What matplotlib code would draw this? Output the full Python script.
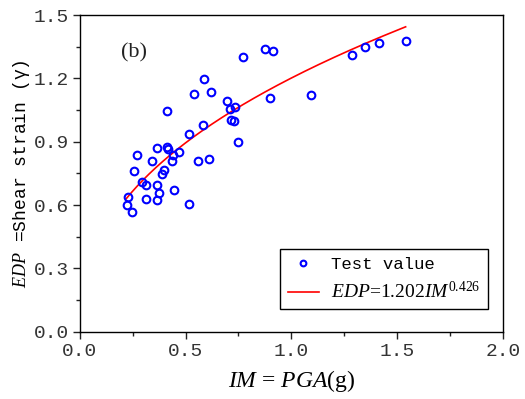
import numpy as np
import matplotlib
matplotlib.use('Agg')
import matplotlib.pyplot as plt
from matplotlib.ticker import MultipleLocator, FormatStrFormatter

plt.rcParams['mathtext.fontset'] = 'custom'
plt.rcParams['mathtext.rm'] = 'Liberation Serif'
plt.rcParams['mathtext.it'] = 'Liberation Serif:italic'

# test values
im_values = [0.222, 0.246, 0.230, 0.254, 0.268, 0.293, 0.315, 0.315, 0.342,
             0.363, 0.367, 0.367, 0.372, 0.389, 0.397, 0.410, 0.410, 0.417,
             0.434, 0.440, 0.446, 0.467, 0.517, 0.517, 0.542, 0.557, 0.583,
             0.586, 0.611, 0.619, 0.695, 0.708, 0.717, 0.730, 0.733, 0.748,
             0.771, 0.873, 0.898, 0.911, 1.092, 1.285, 1.349, 1.414, 1.543]
edp_values = [0.600, 0.566, 0.640, 0.761, 0.836, 0.708, 0.695, 0.629, 0.807,
              0.622, 0.869, 0.695, 0.656, 0.747, 0.766, 1.045, 0.876, 0.864,
              0.807, 0.836, 0.673, 0.851, 0.935, 0.605, 1.125, 0.807, 0.979,
              1.197, 0.818, 1.135, 1.091, 1.056, 1.004, 0.997, 1.063, 0.897,
              1.300, 1.341, 1.107, 1.328, 1.121, 1.311, 1.347, 1.366, 1.377]

# fitted power law
fit_a = 1.202
fit_b = 0.426
fit_range = (0.22, 1.54)

mono = ['Liberation Mono', 'DejaVu Sans Mono']

fig = plt.figure(figsize=(5.25, 3.99), dpi=100)
ax = fig.add_axes([0.152, 0.169, 0.806, 0.793])

ax.plot(im_values, edp_values, 'o', mfc='none', mec='#0000ff', ms=5.5, mew=1.5,
        label='Test value', zorder=3)
xf = np.linspace(fit_range[0], fit_range[1], 200)
ax.plot(xf, fit_a * xf ** fit_b, color='#ff0000', lw=1.2,
        label=r'$\mathit{EDP}$=1.202$\mathit{IM}^{0.426}$')

ax.set_xlim(0, 2.0)
ax.set_ylim(0, 1.5)
ax.xaxis.set_major_locator(MultipleLocator(0.5))
ax.xaxis.set_minor_locator(MultipleLocator(0.25))
ax.yaxis.set_major_locator(MultipleLocator(0.3))
ax.yaxis.set_minor_locator(MultipleLocator(0.15))
ax.xaxis.set_major_formatter(FormatStrFormatter('%.1f'))
ax.yaxis.set_major_formatter(FormatStrFormatter('%.1f'))
ax.tick_params(which='major', direction='out', length=5, width=1,
               top=False, right=False, colors='#222222', labelsize=14, pad=3)
ax.tick_params(which='minor', direction='out', length=3, width=1,
               top=False, right=False, colors='#222222')
for lab in ax.get_xticklabels() + ax.get_yticklabels():
    lab.set_family(mono)
    lab.set_color('#333333')
for sp in ax.spines.values():
    sp.set_linewidth(1.0)

ax.set_xlabel(r'$\mathit{IM}$ = $\mathit{PGA}$(g)', fontsize=17,
              family='Liberation Serif', labelpad=6)
ax.set_ylabel(r'$\mathit{EDP}$ =Shear strain (γ)', fontsize=13,
              family=mono, labelpad=1)

ax.text(0.197, 1.32, '(b)', fontsize=16, family='Liberation Serif',
        va='center', ha='left', color='#222222')

leg = ax.legend(loc='lower right', bbox_to_anchor=(0.965, 0.07),
                prop={'family': mono, 'size': 12.5}, fancybox=False,
                edgecolor='black', framealpha=1, handlelength=1.8,
                handletextpad=0.7, borderpad=0.45, labelspacing=0.5,
                borderaxespad=0, markerscale=0.75)
leg.get_frame().set_linewidth(1.0)
leg.get_texts()[1].set_family('Liberation Serif')
leg.get_texts()[1].set_fontsize(14)

fig.savefig('out.png', dpi=100)
